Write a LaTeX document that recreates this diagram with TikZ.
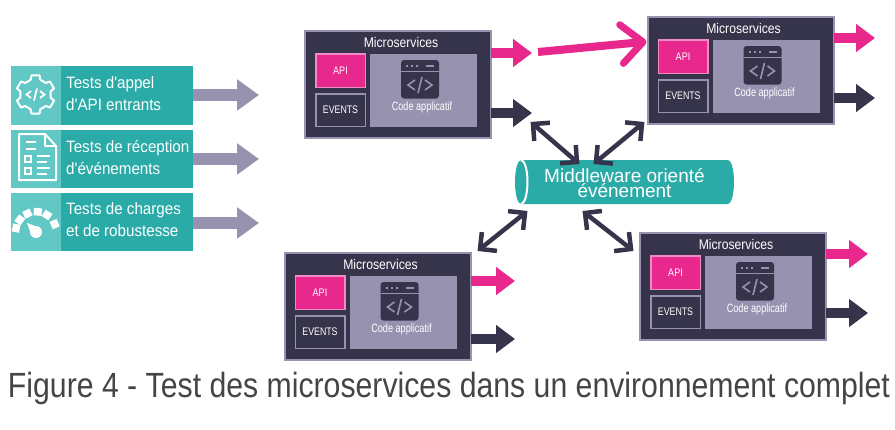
\documentclass[tikz,border=0pt]{standalone}
\usepackage{fontspec}
\setmainfont{Liberation Sans}
\usetikzlibrary{arrows.meta,calc}
\definecolor{tealm}{HTML}{2AABA8}
\definecolor{teall}{HTML}{62C8C6}
\definecolor{darkb}{HTML}{36344A}
\definecolor{greyp}{HTML}{9692AF}
\definecolor{pinkm}{HTML}{E8288C}
\definecolor{pinkl}{HTML}{F08CC4}
\definecolor{capt}{HTML}{454545}
\newcommand{\nar}[2]{\scalebox{#1}[1]{#2}}
\tikzset{
  x=1pt,y=-1pt,
  txt/.style={inner sep=0pt,text=white,font=\fontsize{#1}{#1}\selectfont},
  outerbox/.style={draw=greyp,line width=2pt,fill=darkb,minimum width=186pt,minimum height=107pt,inner sep=0pt,anchor=north west},
  apibox/.style={draw=pinkl,line width=1.5pt,fill=pinkm,minimum width=49.5pt,minimum height=33.5pt,inner sep=0pt,anchor=north west,text=white,font=\fontsize{11}{11}\selectfont},
  evbox/.style={draw=greyp,line width=1.5pt,fill=darkb,minimum width=49.5pt,minimum height=32.5pt,inner sep=0pt,anchor=north west,text=white,font=\fontsize{11}{11}\selectfont},
  codebox/.style={fill=greyp,minimum width=107pt,minimum height=73pt,inner sep=0pt,anchor=north west},
  fatarrow/.style={line width=#1,-{Triangle[length=19pt,width=27pt]}},
  leftbox/.style={fill=tealm,minimum width=182pt,minimum height=58.5pt,inner sep=0pt,anchor=north west},
  leftarrow/.style={draw=greyp,line width=12pt,-{Triangle[length=22pt,width=30pt]}},
  lefttxt/.style={anchor=west,inner sep=0pt,text=white,font=\fontsize{16.5}{16.5}\selectfont},
  icon/.style={draw=white,line width=2pt,line join=round},
  dbl/.style={draw=darkb,line width=4.5pt,line join=miter},
}
\newcommand{\msbox}[6]{%
 \begin{scope}[shift={(#2,#3)}]
  \node[outerbox] (#1) at (0,0) {};
  \node[txt=14] (#1-title) at (97,12) {\nar{.87}{Microservices}};
  \node[apibox] (#1-api) at (11,23) {\nar{.82}{API}};
  \node[evbox] (#1-ev) at (11,63) {\nar{.8}{EVENTS}};
  \node[codebox] (#1-code) at (66,24) {};
  \fill[darkb,rounded corners=3pt] (97,30) rectangle (135,68.5);
  \draw[greyp,line width=.7pt] (97,41) -- (135,41);
  \foreach \q in {102,107,112}{\fill[greyp] (\q,35.3) rectangle ++(2,1.5);}
  \fill[greyp] (122,35.2) rectangle (130,36.8);
  \draw[greyp,line width=1.6pt] (111,50) -- (104,55) -- (111,60);
  \draw[greyp,line width=1.6pt] (121,50) -- (128,55) -- (121,60);
  \draw[greyp,line width=1.6pt] (118,47) -- (114,63);
  \node[txt=12] (#1-ctxt) at (118,77) {\nar{.76}{Code applicatif}};
  \coordinate (#1-ps) at (187,#4);
  \coordinate (#1-pe) at (#6,#4);
  \coordinate (#1-ds) at (187,#5);
  \coordinate (#1-de) at (#6,#5);
  \draw[fatarrow=10pt,pinkm] (#1-ps) -- (#1-pe);
  \draw[fatarrow=10pt,darkb] (#1-ds) -- (#1-de);
 \end{scope}}
\newcommand{\dblarrow}[2]{%
  \draw[dbl] (#1) -- (#2);
  \draw[dbl] ($(#1)!17pt!45:(#2)$) -- (#1) -- ($(#1)!17pt!-45:(#2)$);
  \draw[dbl] ($(#2)!17pt!45:(#1)$) -- (#2) -- ($(#2)!17pt!-45:(#1)$);}
\begin{document}
\begin{tikzpicture}
\useasboundingbox (0,0) rectangle (895,429);
\fill[white] (0,0) rectangle (895,429);
% left column
\foreach \n/\y/\c in {t1/66/95,t2/129.5/159,t3/192.5/223}{
  \node[leftbox] (\n) at (11,\y) {};
  \fill[teall] (11,\y) rectangle (61,\y+58.5);
  \coordinate (\n-e) at (259,\c);
  \coordinate (\n-s) at (193,\c);
  \draw[leftarrow] (\n-s) -- (\n-e);
}
\node[lefttxt] (l1a) at (66,84) {\nar{.92}{Tests d\textquotesingle appel}};
\node[lefttxt] (l1b) at (66,105) {\nar{.92}{d\textquotesingle API entrants}};
\node[lefttxt] (l2a) at (66,148) {\nar{.92}{Tests de réception}};
\node[lefttxt] (l2b) at (66,169) {\nar{.92}{d\textquotesingle événements}};
\node[lefttxt] (l3a) at (66,210) {\nar{.92}{Tests de charges}};
\node[lefttxt] (l3b) at (66,231) {\nar{.92}{et de robustesse}};
% gear icon
\begin{scope}[shift={(35.5,94.5)}]
 \draw[icon] (72:15.5) \foreach \a in {0,60,...,300}{
   -- (\a+72:15.5) -- (\a+78:19.5) -- (\a+102:19.5) -- (\a+108:15.5) -- (\a+132:15.5)} -- cycle;
 \draw[white,line width=1.8pt] (-4.5,-3.5) -- (-9,0) -- (-4.5,3.5);
 \draw[white,line width=1.8pt] (4.5,-3.5) -- (9,0) -- (4.5,3.5);
 \draw[white,line width=1.8pt] (1.5,-6) -- (-1.5,6);
\end{scope}
% document icon
\draw[icon] (19,134) -- (45,134) -- (56,146) -- (56,180) -- (19,180) -- cycle;
\draw[icon,line width=1.5pt] (45,134) -- (45,146) -- (56,146);
\foreach \y in {142,149}{\draw[white,line width=2pt] (26,\y) -- (36,\y);}
\foreach \y in {156,168}{
  \draw[white,line width=2pt] (25,\y) rectangle (31,\y+6);
  \draw[white,line width=2pt] (37,\y) -- (50,\y);
  \draw[white,line width=2pt] (37,\y+6) -- (47,\y+6);
}
% gauge icon
\begin{scope}[shift={(36,232)}]
 \foreach \a in {191,217,245,275,303,337}{
   \draw[white,line width=8pt] (\a:16.5) -- (\a:24);}
 \fill[white] (-9,-9) -- (4.2,-4.2) -- (-4.2,4.2) -- cycle;
 \fill[white] (0,0) circle[radius=6];
\end{scope}
% microservices
\msbox{m1}{304}{30}{23}{83}{228}
\msbox{m2}{646.5}{16}{22}{82}{228.5}
\msbox{m3}{283.5}{252}{29}{87}{231.5}
\msbox{m4}{639}{232}{22}{81}{229}
% pink diagonal arrow
\coordinate (ps) at (538,52);
\coordinate (pt) at (643,42);
\draw[pinkm,line width=8pt] (ps) -- (pt);
\draw[pinkm,line width=7pt,line cap=round,line join=round] ($(pt)!29pt!42:(ps)$) -- (pt) -- ($(pt)!29pt!-42:(ps)$);
% middleware cylinder
\fill[tealm] (521,160) -- (728,160) arc[start angle=-90,end angle=90,x radius=6,y radius=22] -- (521,204) -- cycle;
\fill[tealm] (521,182) ellipse[x radius=6,y radius=22];
\draw[white,line width=2pt] (521,160) arc[start angle=-90,end angle=90,x radius=6.5,y radius=22];
\node[txt=19] (mw1) at (624.5,175.5) {Middleware orienté};
\node[txt=19] (mw2) at (624.5,190.5) {événement};
% double arrows
\coordinate (a1) at (533,124);
\coordinate (a2) at (577,162);
\coordinate (b1) at (642,124);
\coordinate (b2) at (596,162);
\coordinate (c1) at (525,213);
\coordinate (c2) at (480,249);
\coordinate (d1) at (585,213);
\coordinate (d2) at (631,249);
\dblarrow{a1}{a2}
\dblarrow{b1}{b2}
\dblarrow{c1}{c2}
\dblarrow{d1}{d2}
% caption
\node[anchor=base,inner sep=0pt,text=capt,font=\fontsize{35}{35}\selectfont] (cap) at (449,397)
 {\resizebox{882pt}{\height}{Figure 4 - Test des microservices dans un environnement complet}};
\end{tikzpicture}
\end{document}
